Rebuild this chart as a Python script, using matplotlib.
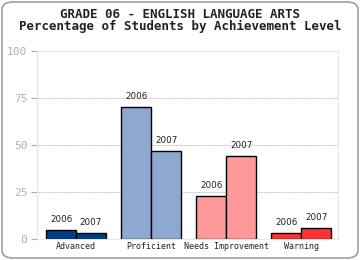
import numpy as np
import matplotlib.pyplot as plt
from matplotlib.patches import FancyBboxPatch

categories = ["Advanced", "Proficient", "Needs Improvement", "Warning"]
years = ["2006", "2007"]
pct_2006 = [5, 70, 23, 3]
pct_2007 = [3, 47, 44, 6]
colors = ["#003f87", "#8fa8cf", "#ff9999", "#ff3333"]
yticks = [0, 25, 50, 75, 100]

fig = plt.figure(figsize=(3.6, 2.6), dpi=100)
ax = fig.add_axes([37 / 360, 21 / 260, 301 / 360, 188 / 260])

# rounded frame round the whole chart
frame = FancyBboxPatch((2 / 360, 2 / 260), 356 / 360, 256 / 260,
                       boxstyle="round,pad=0,rounding_size=0.03",
                       transform=fig.transFigure, fill=False,
                       edgecolor="#a0a0a0", linewidth=1.2)
fig.patches.append(frame)

x = np.arange(len(categories))
w = 0.4
b1 = ax.bar(x - w / 2, pct_2006, w, color=colors, edgecolor="black", linewidth=1)
b2 = ax.bar(x + w / 2, pct_2007, w, color=colors, edgecolor="black", linewidth=1)

for bars, yr in [(b1, years[0]), (b2, years[1])]:
    for r in bars:
        ax.text(r.get_x() + r.get_width() / 2, r.get_height() + 3.2, yr,
                ha="center", va="bottom", fontsize=6.3, family="DejaVu Sans",
                color="#222222")

ax.set_xlim(-0.52, 3.49)
ax.set_ylim(0, 100)
ax.set_yticks(yticks)
ax.set_yticklabels([str(t) for t in yticks], family="DejaVu Sans Mono",
                   fontsize=8, color="#b0b0b0")
ax.tick_params(axis="y", length=4, color="#aaaaaa", pad=3)
ax.set_xticks(x)
ax.set_xticklabels(categories, family="DejaVu Sans Mono", fontsize=6,
                   color="#222222")
ax.tick_params(axis="x", length=0, pad=2)

for t in [25, 50, 75]:
    ax.axhline(t, color="#aaaaaa", linestyle=(0, (1, 1)), linewidth=0.6, zorder=0)
for s in ax.spines.values():
    s.set_color("#e6e6e6")
    s.set_linewidth(0.8)

fig.text(0.5, 1 - 14 / 260, "GRADE 06 - ENGLISH LANGUAGE ARTS", ha="center",
         va="center", family="DejaVu Sans Mono", fontweight="bold",
         fontsize=9.0, color="#222222")
fig.text(0.5, 1 - 26 / 260, "Percentage of Students by Achievement Level",
         ha="center", va="center", family="DejaVu Sans Mono", fontweight="bold",
         fontsize=9.0, color="#222222")

fig.savefig("out.png", dpi=100)
